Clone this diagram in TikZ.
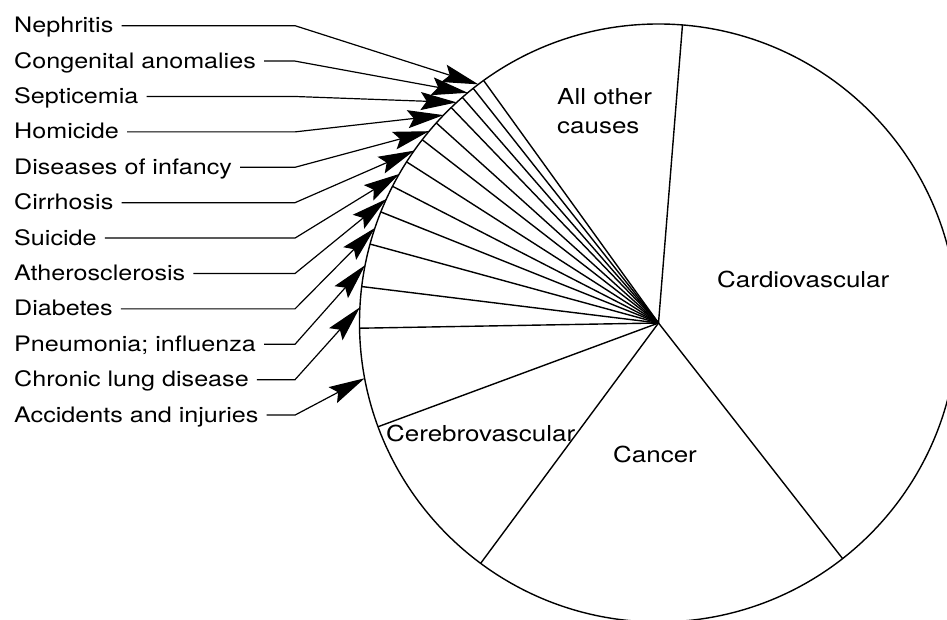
\documentclass[tikz,border=0pt]{standalone}
\usepackage{fontspec}
\setmainfont{TeX Gyre Heros}[FakeStretch=1.18]
\usetikzlibrary{arrows.meta,calc}
\begin{document}
\begin{tikzpicture}[x=1pt,y=1pt,
  pie/.style={line width=1.4pt},
  lead/.style={line width=1.2pt,arrows={-Stealth[length=36pt,width=18pt,inset=6pt]}},
  lbl/.style={anchor=base west,inner sep=0pt,font=\fontsize{21.3}{25}\selectfont},
  plbl/.style={inner sep=0pt,font=\fontsize{22}{29}\selectfont}]
\useasboundingbox (0,0) rectangle (947,620);
\coordinate (C) at (658.5,297);
\draw[pie] (C) circle[radius=299];
\foreach \a [count=\k] in {85.4,125.8,128.3,131,133.9,138,142.2,147.4,152.8,158.2,164.7,173,181,200.3,233.5,308}
  \draw[pie] (C) -- ([shift={(C)}]\a:299) coordinate (r\k);
\foreach \txt/\ang [count=\i] in {Nephritis/127.05,Congenital anomalies/129.65,Septicemia/132.45,Homicide/135.95,Diseases of infancy/140.1,Cirrhosis/144.8,Suicide/150.1,Atherosclerosis/155.5,Diabetes/161.45,Pneumonia; influenza/168.85,Chronic lung disease/177,Accidents and injuries/190.65} {
  \pgfmathsetmacro\ly{620-25.7-35.4*(\i-1)}
  \node[lbl] (l\i) at (14,\ly-7) {\txt};
  \coordinate (b\i) at (295,\ly);
  \coordinate (t\i) at ([shift={(C)}]\ang:299);
  \draw[lead] ([shift={(8,7)}]l\i.base east) -- (b\i) -- (t\i);
}
\node[plbl,align=left,anchor=north west] (other) at (557,532) {All other\\causes};
\node[plbl,anchor=base west] (cardio) at (717,332) {Cardiovascular};
\node[plbl,anchor=base west] (cancer) at (613,157) {Cancer};
\node[plbl,anchor=base west] (cerebro) at (386,178) {Cerebrovascular};
\end{tikzpicture}
\end{document}
